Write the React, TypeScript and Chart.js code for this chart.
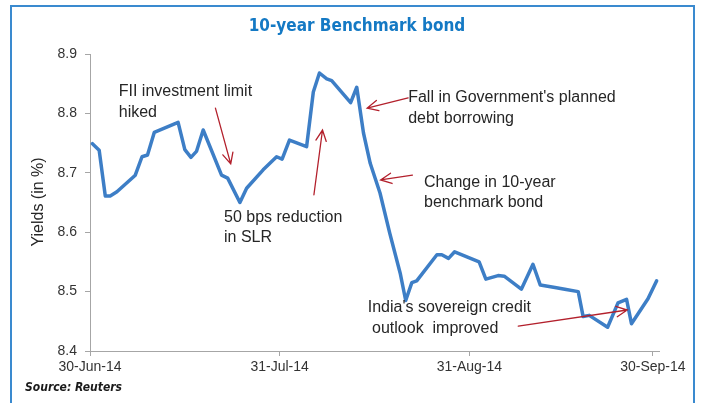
import React, { useEffect, useRef } from "react";
import { Chart, registerables } from "chart.js";

Chart.register(...registerables);

// Day offsets from 30-Jun-14 and 10-year benchmark yields (%)
const days = [0.4, 1.5, 2.5, 3.3, 4.4, 7.4, 8.5, 9.4, 10.5, 14.4, 15.5, 16.5, 17.4, 18.5, 21.5, 22.5, 24.5, 25.6, 28.3, 30.5, 31.4, 32.6, 35.4, 36.5, 37.5, 38.7, 39.5, 42.6, 43.6, 44.7, 45.8, 47.4, 49.0, 50.7, 51.6, 52.6, 53.4, 56.7, 57.5, 58.6, 59.6, 63.6, 64.7, 66.7, 67.7, 70.5, 72.4, 73.6, 76.0, 77.6, 79.8, 80.6, 81.6, 84.6, 86.3, 87.7, 88.5, 91.2, 92.6];
const yields = [8.749, 8.738, 8.661, 8.661, 8.668, 8.696, 8.727, 8.730, 8.768, 8.785, 8.739, 8.726, 8.736, 8.772, 8.696, 8.691, 8.650, 8.674, 8.705, 8.727, 8.723, 8.755, 8.744, 8.836, 8.868, 8.858, 8.855, 8.818, 8.844, 8.767, 8.716, 8.666, 8.598, 8.531, 8.485, 8.515, 8.518, 8.562, 8.562, 8.556, 8.567, 8.550, 8.521, 8.527, 8.526, 8.504, 8.546, 8.511, 8.507, 8.504, 8.500, 8.458, 8.460, 8.440, 8.481, 8.487, 8.446, 8.488, 8.518];

const tickDays = [0, 31, 62, 92];
const tickLabels = ["30-Jun-14", "31-Jul-14", "31-Aug-14", "30-Sep-14"];

const titleText = "10-year Benchmark bond";
const yTitleText = "Yields (in %)";
const sourceText = "Source: Reuters";

// annotation text lines anchored in data coordinates (day, yield)
const noteTexts = ["FII investment limit", "hiked", "50 bps reduction", "in SLR", "Fall in Government's planned", "debt borrowing", "Change in 10-year", "benchmark bond", "India's sovereign credit", "outlook  improved"];
const noteDays = [4.7, 4.7, 21.9, 21.9, 52.0, 52.0, 54.6, 54.6, 45.4, 46.1];
const noteValues = [8.829, 8.794, 8.617, 8.583, 8.820, 8.784, 8.676, 8.642, 8.466, 8.430];

// arrows: from (day, yield) to (day, yield)
const arrowFromDays = [20.5, 36.6, 52.0, 52.7, 70.0];
const arrowFromValues = [8.809, 8.663, 8.826, 8.696, 8.442];
const arrowToDays = [23.0, 38.0, 45.3, 47.5, 87.8];
const arrowToValues = [8.715, 8.772, 8.809, 8.688, 8.469];

const overlay = {
  id: "overlay",
  afterDatasetsDraw(chart: any) {
    const { ctx, scales } = chart;
    const x = scales.x;
    const y = scales.y;
    ctx.save();
    // annotations
    ctx.fillStyle = "#262626";
    ctx.font = '16px "Liberation Sans", Arial, sans-serif';
    ctx.textAlign = "left";
    ctx.textBaseline = "alphabetic";
    noteTexts.forEach((t, i) => {
      ctx.fillText(t, x.getPixelForValue(noteDays[i]), y.getPixelForValue(noteValues[i]));
    });
    // arrows
    ctx.strokeStyle = "#B3202C";
    ctx.lineWidth = 1.3;
    ctx.lineCap = "round";
    arrowFromDays.forEach((d, i) => {
      const x1 = x.getPixelForValue(d);
      const y1 = y.getPixelForValue(arrowFromValues[i]);
      const x2 = x.getPixelForValue(arrowToDays[i]);
      const y2 = y.getPixelForValue(arrowToValues[i]);
      const ang = Math.atan2(y2 - y1, x2 - x1);
      const len = 12;
      const spread = 0.45;
      ctx.beginPath();
      ctx.moveTo(x1, y1);
      ctx.lineTo(x2, y2);
      ctx.moveTo(x2 - len * Math.cos(ang - spread), y2 - len * Math.sin(ang - spread));
      ctx.lineTo(x2, y2);
      ctx.lineTo(x2 - len * Math.cos(ang + spread), y2 - len * Math.sin(ang + spread));
      ctx.stroke();
    });
    // title
    ctx.fillStyle = "#1479C4";
    ctx.font = 'bold 17px "DejaVu Sans Condensed", "DejaVu Sans", sans-serif';
    ctx.textAlign = "center";
    ctx.textBaseline = "middle";
    ctx.fillText(titleText, 357, 27);
    // y title
    ctx.fillStyle = "#262626";
    ctx.font = '16px "Liberation Sans", Arial, sans-serif';
    ctx.translate(39, 202);
    ctx.rotate(-Math.PI / 2);
    ctx.fillText(yTitleText, 0, 0);
    ctx.setTransform(1, 0, 0, 1, 0, 0);
    // source
    ctx.fillStyle = "#1a1a1a";
    ctx.font = 'italic bold 12px "DejaVu Sans Condensed", "DejaVu Sans", sans-serif';
    ctx.textAlign = "left";
    ctx.fillText(sourceText, 25, 388);
    ctx.restore();
  },
};

export default function App() {
  const ref = useRef<HTMLCanvasElement | null>(null);
  useEffect(() => {
    if (!ref.current) return;
    const axisColor = "#A6A6A6";
    const chart = new Chart(ref.current, {
      type: "line",
      data: {
        datasets: [
          {
            data: days.map((d, i) => ({ x: d, y: yields[i] })),
            borderColor: "#3D7EC6",
            borderWidth: 3.5,
            pointRadius: 0,
            tension: 0,
            borderJoinStyle: "round",
            borderCapStyle: "round",
            fill: false,
          },
        ],
      },
      options: {
        animation: false,
        responsive: false,
        devicePixelRatio: 1,
        layout: { padding: { top: 54, right: 46, bottom: 0, left: 0 } },
        plugins: { legend: { display: false }, tooltip: { enabled: false }, title: { display: false } },
        scales: {
          x: {
            type: "linear",
            min: 0,
            max: 93,
            afterBuildTicks: (s: any) => {
              s.ticks = tickDays.map((v) => ({ value: v }));
            },
            afterFit: (s: any) => {
              s.height = 52;
            },
            ticks: {
              autoSkip: false,
              maxRotation: 0,
              padding: 3,
              color: "#333333",
              font: { family: '"Liberation Sans", Arial, sans-serif', size: 14 },
              callback: (v: any) => {
                const i = tickDays.indexOf(Number(v));
                return i >= 0 ? tickLabels[i] : "";
              },
            },
            grid: { drawOnChartArea: false, tickLength: 5, color: axisColor },
            border: { display: true, color: axisColor, width: 1 },
          },
          y: {
            min: 8.4,
            max: 8.9,
            afterFit: (s: any) => {
              s.width = 90;
            },
            ticks: {
              stepSize: 0.1,
              padding: 8,
              color: "#333333",
              font: { family: '"Liberation Sans", Arial, sans-serif', size: 14 },
              callback: (v: any) => Number(v).toFixed(1),
            },
            grid: { drawOnChartArea: false, tickLength: 5, color: axisColor },
            border: { display: true, color: axisColor, width: 1 },
          },
        },
      },
      plugins: [overlay],
    });
    return () => chart.destroy();
  }, []);

  return (
    <div style={{ position: "absolute", left: 0, top: 0, width: 705, height: 403, overflow: "hidden", background: "#fff" }}>
      <div style={{ position: "absolute", left: 10, top: 5, width: 685, height: 430, border: "2px solid #3A8ACF", boxSizing: "border-box" }} />
      <canvas ref={ref} width={705} height={403} style={{ position: "absolute", left: 0, top: 0, width: 705, height: 403 }} />
    </div>
  );
}
